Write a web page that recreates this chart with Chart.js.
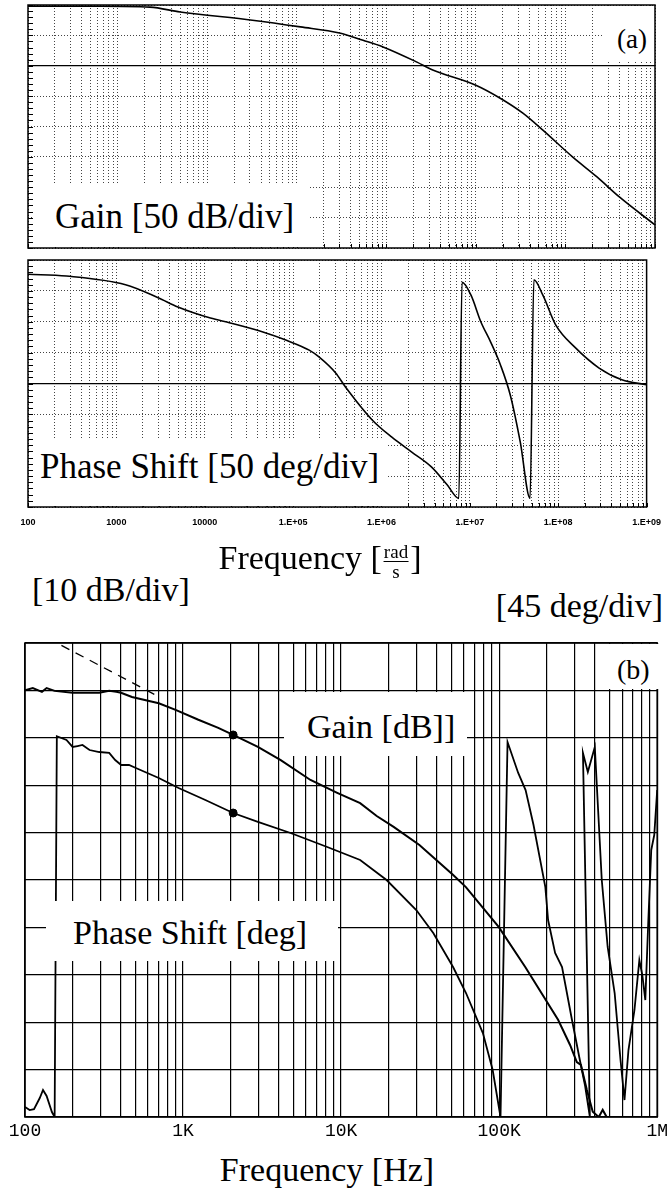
<!DOCTYPE html>
<html>
<head>
<meta charset="utf-8">
<script src="https://cdn.jsdelivr.net/npm/chart.js@4.4.0/dist/chart.umd.min.js"></script>
<style>
  html, body { margin: 0; padding: 0; background: #fff; }
  body { width: 671px; height: 1190px; position: relative; overflow: hidden; font-family: "Liberation Serif", serif; color: #000; }
  canvas { position: absolute; left: 0; }
  .wb { position: absolute; background: #fff; }
  .t { position: absolute; white-space: nowrap; font-size: 34px; line-height: 34px; }
  .frac { display: inline-block; vertical-align: middle; text-align: center; font-size: 19px; line-height: 19px; margin: 0 2px; }
  .frac span { display: block; }
  .frac span:first-child { border-bottom: 1px solid #000; }
</style>
</head>
<body>
<canvas id="gainA" width="671" height="252" style="top:0px"></canvas>
<canvas id="phaseA" width="671" height="290" style="top:255px"></canvas>
<canvas id="chartB" width="671" height="520" style="top:630px"></canvas>

<!-- label boxes (white patches over the grid, as in the figure) -->
<div class="wb" style="left:34px;top:184px;width:276px;height:63px"></div>
<div class="t" style="left:55px;top:200px;font-size:35px">Gain [50 dB/div]</div>
<div class="wb" style="left:604px;top:6px;width:50px;height:55px"></div>
<div class="t" style="left:617px;top:22px;font-size:27px">(a)</div>
<div class="wb" style="left:34px;top:438px;width:353px;height:68px"></div>
<div class="t" style="left:40px;top:450px;font-size:35px">Phase Shift [50 deg/div]</div>

<div class="t" style="left:320px;top:541px;transform:translateX(-50%)">Frequency [<span class="frac"><span>rad</span><span>s</span></span>]</div>
<div class="t" style="left:32px;top:573px">[10 dB/div]</div>
<div class="t" style="right:8px;top:589px">[45 deg/div]</div>

<div class="wb" style="left:604px;top:644px;width:58px;height:45px"></div>
<div class="t" style="left:617px;top:653px;font-size:28px">(b)</div>
<div class="wb" style="left:284px;top:692px;width:183px;height:64px"></div>
<div class="t" style="left:307px;top:710px">Gain [dB]]</div>
<div class="wb" style="left:46px;top:901px;width:292px;height:60px"></div>
<div class="t" style="left:73px;top:916px">Phase Shift [deg]</div>

<div class="t" style="left:327px;top:1153px;transform:translateX(-50%)">Frequency [Hz]</div>

<script>
// ---- panel (a): calculated response, frequency in rad/s ----
const freqA_gain = [100, 640, 2300, 5000, 32000, 110000, 300000, 550000, 920000, 2.2e6, 3.3e6, 1.0e7, 1.85e7, 3.35e7, 5.6e7, 1.2e8, 2.25e8, 4.0e8, 1.0e9];
const gainA = [98, 98, 96.5, 88.5, 75, 64, 54, 42, 31, 6, -7, -32, -53, -78, -106, -150, -183, -216, -262];

const freqA_phase = [100, 272, 1270, 2970, 4970, 11600, 19400, 46400, 84000, 152000, 196000, 303000, 393000, 785000,
  1.31e6, 2.2e6, 3.67e6, 5.53e6, 7.5e6, 8.15e6, 1.03e7, 1.33e7, 1.72e7, 2.22e7, 2.87e7, 3.72e7, 4.8e7,
  5.3e7, 6.7e7, 9.35e7, 1.56e8, 2.9e8, 5.24e8, 1e9];
const phaseA = [177, 174, 160, 139, 124, 106, 98, 83, 70, 54, 43, 17, -6, -59,
  -87, -111, -135, -164, -186, 164, 143, 100, 67, 30, -19, -95, -186,
  168, 143, 95, 58, 25, 6, -2];

const tickLabelsA = ['100', '1000', '10000', '1.E+05', '1.E+06', '1.E+07', '1.E+08', '1.E+09'];

// ---- panel (b): measured response, frequency in Hz ----
const freqB_gain = [100, 112, 128, 137, 154, 200, 295, 341, 378, 405, 475, 702, 897, 1250, 1670, 2075, 2975, 4150,
  6400, 9450, 13200, 16800, 21500, 31300, 51000, 61600, 99300, 146600, 236000, 281000, 310000, 329000,
  359000, 391000, 427000, 452000, 479000];
const gainB = [0, 0.5, -0.3, 0.5, -0.1, -0.5, -0.5, -0.1, -0.3, -0.5, -1.4, -2.7, -4.1, -6.2, -7.9, -9.4, -11.9, -14.7,
  -18.9, -21.6, -23.8, -26.5, -28.8, -32.6, -38.9, -41.5, -49.9, -58.4, -69.5, -74.8, -78.4, -79,
  -84.3, -88.9, -90, -88.5, -90];

const freqB_phase = [100, 107, 114, 124, 130, 137, 148, 154, 159, 183, 200, 215, 231, 256, 295, 341, 372, 406, 455, 503,
  702, 937, 1384, 2075, 2975, 4790, 8170, 13200, 19400, 29900, 38300, 51100, 61700, 78900, 91000, 102000,
  113000, 132000, 147000, 165000, 196000, 204000, 226000, 250000, 289000, 324000, 349000, 375000,
  339000, 364000, 403000, 446000, 486000, 538000, 586000, 621000, 658000, 718000, 771000, 805000, 841000,
  879000, 917000, 958000, 1000000];
const phaseB = [-350.5, -353.4, -352.5, -342, -334.4, -340, -355.3, -360, 1.5, -2.1, -8.7, -7.8, -6.8, -11.6, -13.5, -14.4, -21.1, -25.8, -25.8, -28.7,
  -38.2, -47.7, -59.1, -71.4, -79.9, -90.4, -103.7, -116, -135, -163.5, -185.3, -217.6, -242.3, -280.3, -315.4, -360,
  -4, -33.4, -49.6, -82.8, -141.7, -173, -204.3, -217.6, -267.9, -305.9, -329.6, -360,
  -14.4, -32.5, -8.7, -135, -198.6, -242.3, -305.9, -343.9, -296.4, -258.4, -211, -225.2, -249,
  -173, -106.5, -92.3, -49.6];

// dashed asymptote and the two marked points
const asymFreq = [170, 700];
const asymGain = [9.5, -1.3];
const markFreq = [2075];
const markGain = [-9.4];
const markPhase = [-71.4];

const tickLabelsB = ['100', '1K', '10K', '100K', '1M'];

// ---- helpers ----
function pts(xs, ys) { return xs.map((x, i) => ({ x: x, y: ys[i] })); }

function logTicks(lo, hi) {
  const t = [];
  for (let e = lo; e < hi; e++) {
    for (let m = 1; m < 10; m++) t.push({ value: m * Math.pow(10, e) });
  }
  t.push({ value: Math.pow(10, hi) });
  return t;
}

function decadeLabel(labels, lo) {
  return v => {
    const e = Math.log10(v), r = Math.round(e);
    return Math.abs(e - r) < 1e-6 ? labels[r - lo] : '';
  };
}

// box outline + small inward ticks on the left and bottom edges
const framePlugin = {
  id: 'frame',
  afterDraw(chart, args, opts) {
    const { ctx, chartArea: a } = chart;
    ctx.save();
    ctx.strokeStyle = '#000';
    ctx.lineWidth = opts.width || 1.5;
    ctx.strokeRect(a.left, a.top, a.right - a.left, a.bottom - a.top);
    if (opts.minorStep) {
      const y = chart.scales.y;
      ctx.lineWidth = 1;
      for (let v = y.min; v <= y.max; v += opts.minorStep) {
        const py = Math.round(y.getPixelForValue(v)) + 0.5;
        ctx.beginPath();
        ctx.moveTo(a.left, py);
        ctx.lineTo(a.left + 5, py);
        ctx.stroke();
      }
      chart.scales.x.ticks.forEach(t => {
        const px = Math.round(chart.scales.x.getPixelForValue(t.value)) + 0.5;
        ctx.beginPath();
        ctx.moveTo(px, a.bottom);
        ctx.lineTo(px, a.bottom - 4);
        ctx.stroke();
      });
    }
    ctx.restore();
  }
};

// dotted grid with the solid reference line at 0
const dottedGrid = {
  color: c => (c.tick && c.tick.value === 0) ? '#000' : '#444',
  lineWidth: c => (c.tick && c.tick.value === 0) ? 1.3 : 1,
  drawTicks: false
};
const dottedBorder = { display: false, dash: c => (c.tick && c.tick.value === 0) ? [] : [1, 2] };

function panelA(id, xs, ys, ymin, ymax, bottomH, showLabels) {
  return new Chart(document.getElementById(id), {
    type: 'line',
    data: {
      datasets: [{
        data: pts(xs, ys),
        borderColor: '#000',
        borderWidth: 1.6,
        pointRadius: 0,
        cubicInterpolationMode: 'monotone'
      }]
    },
    options: {
      responsive: false,
      animation: false,
      layout: { padding: { top: 5, left: 28, right: 16, bottom: showLabels ? 0 : 4 } },
      plugins: { legend: { display: false }, tooltip: { enabled: false }, frame: { width: 1.5, minorStep: 10 } },
      scales: {
        x: {
          type: 'logarithmic', min: 100, max: 1e9,
          afterBuildTicks: s => { s.ticks = logTicks(2, 9); },
          afterFit: s => { s.height = bottomH; },
          grid: { color: '#444', lineWidth: 1, drawTicks: false },
          border: { display: false, dash: [1, 2] },
          ticks: {
            display: showLabels, autoSkip: false, maxRotation: 0, padding: 10, color: '#000',
            font: { family: 'Liberation Sans', size: 9, weight: 'bold' },
            callback: decadeLabel(tickLabelsA, 2)
          }
        },
        y: {
          min: ymin, max: ymax,
          afterFit: s => { s.width = 0; },
          ticks: { display: false, stepSize: 50 },
          grid: dottedGrid,
          border: dottedBorder
        }
      }
    },
    plugins: [framePlugin]
  });
}

panelA('gainA', freqA_gain, gainA, -300, 100, 0, false);
panelA('phaseA', freqA_phase, phaseA, -200, 200, 38, true);

new Chart(document.getElementById('chartB'), {
  type: 'line',
  data: {
    datasets: [
      { data: pts(freqB_gain, gainB), yAxisID: 'yG', borderColor: '#000', borderWidth: 2, pointRadius: 0, tension: 0 },
      { data: pts(freqB_phase, phaseB), yAxisID: 'yP', borderColor: '#000', borderWidth: 1.8, pointRadius: 0, tension: 0 },
      { data: pts(asymFreq, asymGain), yAxisID: 'yG', borderColor: '#000', borderWidth: 1.3, borderDash: [9, 7], pointRadius: 0 },
      { data: pts(markFreq, markGain), yAxisID: 'yG', showLine: false, pointRadius: 4, pointBackgroundColor: '#000', pointBorderColor: '#000' },
      { data: pts(markFreq, markPhase), yAxisID: 'yP', showLine: false, pointRadius: 4, pointBackgroundColor: '#000', pointBorderColor: '#000' }
    ]
  },
  options: {
    responsive: false,
    animation: false,
    layout: { padding: { top: 13, left: 25, right: 8, bottom: 0 } },
    plugins: { legend: { display: false }, tooltip: { enabled: false }, frame: { width: 1.6 } },
    scales: {
      x: {
        type: 'logarithmic', min: 100, max: 1e6,
        afterBuildTicks: s => { s.ticks = logTicks(2, 6); },
        afterFit: s => { s.height = 33; },
        grid: { color: '#000', lineWidth: 1.2, drawTicks: false },
        border: { display: false },
        ticks: {
          autoSkip: false, maxRotation: 0, padding: 3, color: '#000',
          font: { family: 'Liberation Mono', size: 18 },
          callback: decadeLabel(tickLabelsB, 2)
        }
      },
      yG: {
        position: 'left', min: -90, max: 10,
        afterFit: s => { s.width = 0; },
        ticks: { display: false, stepSize: 10 },
        grid: { color: '#000', lineWidth: 1.2, drawTicks: false },
        border: { display: false }
      },
      yP: {
        position: 'right', min: -360, max: 90, display: false
      }
    }
  },
  plugins: [framePlugin]
});
</script>
</body>
</html>
